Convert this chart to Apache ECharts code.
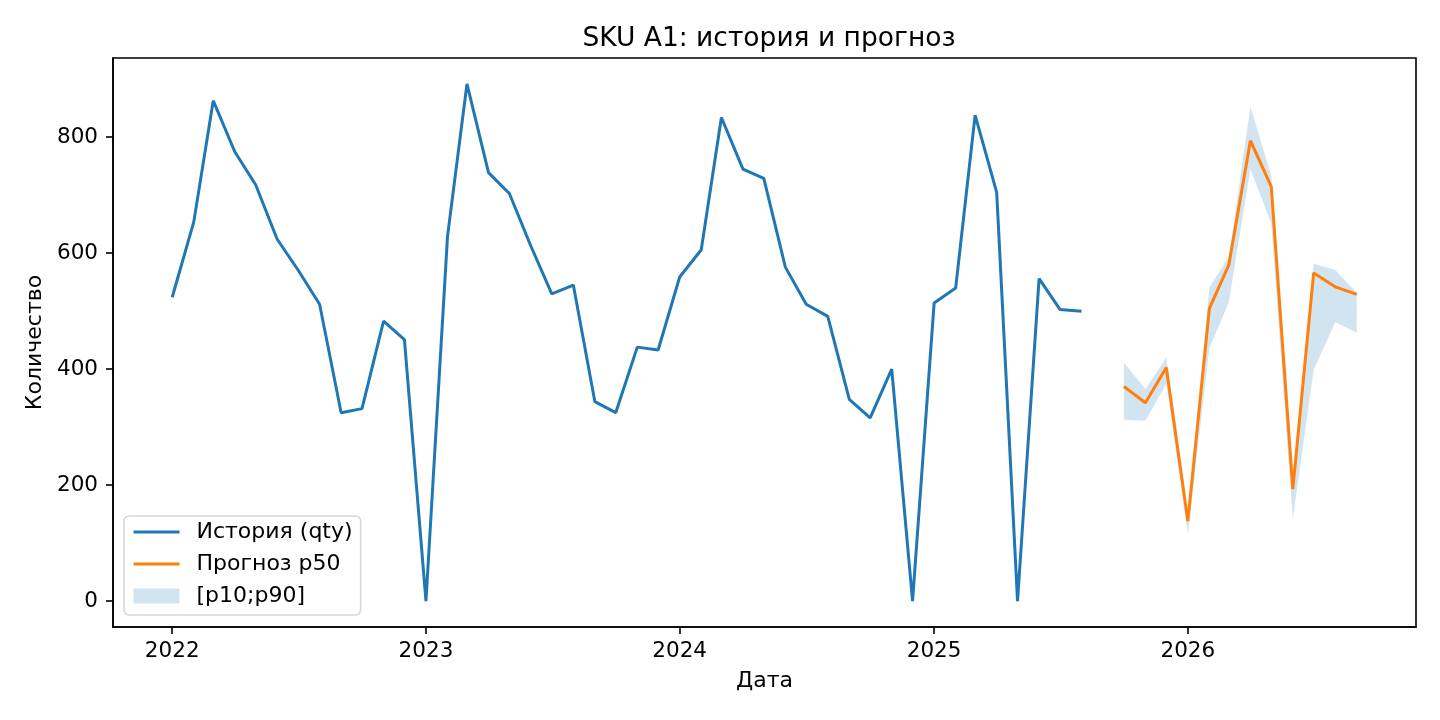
<!DOCTYPE html>
<html>
<head>
<meta charset="utf-8">
<title>SKU A1</title>
<script src="https://cdn.jsdelivr.net/npm/echarts@6/dist/echarts.min.js"></script>
<style>
  html, body { margin: 0; padding: 0; background: #fff; }
  #chart { width: 1440px; height: 720px; }
</style>
</head>
<body>
<div id="chart"></div>
<script>
// history, monthly
var histMonths = [
  '2022-01-01', '2022-02-01', '2022-03-01', '2022-04-01', '2022-05-01', '2022-06-01',
  '2022-07-01', '2022-08-01', '2022-09-01', '2022-10-01', '2022-11-01', '2022-12-01',
  '2023-01-01', '2023-02-01', '2023-03-01', '2023-04-01', '2023-05-01', '2023-06-01',
  '2023-07-01', '2023-08-01', '2023-09-01', '2023-10-01', '2023-11-01', '2023-12-01',
  '2024-01-01', '2024-02-01', '2024-03-01', '2024-04-01', '2024-05-01', '2024-06-01',
  '2024-07-01', '2024-08-01', '2024-09-01', '2024-10-01', '2024-11-01', '2024-12-01',
  '2025-01-01', '2025-02-01', '2025-03-01', '2025-04-01', '2025-05-01', '2025-06-01',
  '2025-07-01', '2025-08-01'
];
var histQty = [
  524, 654, 863, 775, 718, 624, 571, 512, 325, 332, 483, 451,
  0, 629, 892, 739, 703, 612, 530, 545, 344, 325, 438, 433,
  559, 606, 834, 745, 729, 576, 512, 491, 348, 316, 400, 0,
  514, 540, 838, 705, 0, 556, 503, 500
];

// forecast
var fcMonths = [
  '2025-10-01', '2025-11-01', '2025-12-01', '2026-01-01', '2026-02-01', '2026-03-01',
  '2026-04-01', '2026-05-01', '2026-06-01', '2026-07-01', '2026-08-01', '2026-09-01'
];
var fcP50 = [370, 342, 403, 138, 505, 580, 794, 715, 193, 566, 542, 529];
var fcP10 = [313, 311, 375, 115, 436, 516, 745, 651, 142, 399, 481, 463];
var fcP90 = [411, 366, 420, 150, 541, 594, 853, 733, 200, 582, 571, 532];

var xTickYears = ['2022-01-01', '2023-01-01', '2024-01-01', '2025-01-01', '2026-01-01'];
var yTicks = [0, 200, 400, 600, 800];

var FONT = 'DejaVu Sans';

function ts(s) {
  var p = s.split('-');
  return new Date(+p[0], +p[1] - 1, +p[2]).getTime();
}
function pairs(months, vals) {
  return months.map(function (m, i) { return [ts(m), vals[i]]; });
}

// matplotlib-like 5% margins
var tMin = ts(histMonths[0]), tMax = ts(fcMonths[fcMonths.length - 1]);
var tPad = (tMax - tMin) * 0.05;
var allVals = histQty.concat(fcP10, fcP50, fcP90);
var vMin = Math.min.apply(null, allVals), vMax = Math.max.apply(null, allVals);
var vPad = (vMax - vMin) * 0.05;

var xTickTs = xTickYears.map(ts);
var bandData = fcMonths.map(function (m, i) { return [ts(m), fcP10[i], fcP90[i]]; });

// fill between p10 and p90 as one polygon
function renderBand(params, api) {
  if (params.dataIndex !== 0) return;
  var pts = [];
  for (var i = 0; i < bandData.length; i++) {
    pts.push(api.coord([bandData[i][0], bandData[i][2]]));
  }
  for (var j = bandData.length - 1; j >= 0; j--) {
    pts.push(api.coord([bandData[j][0], bandData[j][1]]));
  }
  return {
    type: 'polygon',
    shape: { points: pts },
    style: { fill: 'rgba(31,119,180,0.2)' }
  };
}

var lineLegendItem = function (name, color) {
  return {
    name: name,
    itemStyle: { color: 'rgba(0,0,0,0)', borderWidth: 0 },
    lineStyle: { color: color, width: 3 }
  };
};

var chart = echarts.init(document.getElementById('chart'));
var option = {
  animation: false,
  backgroundColor: '#fff',
  textStyle: { fontFamily: FONT, color: '#000' },
  title: {
    text: 'SKU A1: история и прогноз',
    left: 764,
    textAlign: 'center',
    top: 21,
    textStyle: { fontFamily: FONT, fontSize: 26.5, fontWeight: 'normal', color: '#000' }
  },
  grid: {
    left: 113, right: 24, top: 58, bottom: 93,
    show: true, borderColor: '#000', borderWidth: 1.6, backgroundColor: 'transparent'
  },
  legend: {
    left: 124, top: 516,
    orient: 'vertical',
    itemWidth: 46, itemHeight: 15, itemGap: 10,
    padding: [5, 8, 8, 8],
    backgroundColor: '#fff',
    borderColor: '#d6d6d6', borderWidth: 1.6, borderRadius: 5,
    textStyle: { fontFamily: FONT, fontSize: 22, color: '#000', padding: [0, 0, 0, 12] },
    data: [
      lineLegendItem('История (qty)', '#1f77b4'),
      lineLegendItem('Прогноз p50', '#ff7f0e'),
      { name: '[p10;p90]', icon: 'rect', itemStyle: { color: 'rgba(31,119,180,0.2)' } }
    ]
  },
  xAxis: {
    type: 'value',
    min: tMin - tPad,
    max: tMax + tPad,
    name: 'Дата',
    nameLocation: 'middle',
    nameGap: 43,
    nameTextStyle: { fontFamily: FONT, fontSize: 22, color: '#000' },
    axisLine: { onZero: false, lineStyle: { color: '#000', width: 1.6 } },
    axisTick: { length: 7, lineStyle: { color: '#000', width: 1.6 }, customValues: xTickTs },
    axisLabel: {
      fontFamily: FONT, fontSize: 21.5, color: '#000', margin: 13,
      customValues: xTickTs,
      formatter: function (v) { return String(new Date(v).getFullYear()); }
    },
    splitLine: { show: false }
  },
  yAxis: {
    type: 'value',
    min: vMin - vPad,
    max: vMax + vPad,
    name: 'Количество',
    nameLocation: 'middle',
    nameGap: 66,
    nameTextStyle: { fontFamily: FONT, fontSize: 22, color: '#000' },
    axisLine: { show: true, onZero: false, lineStyle: { color: '#000', width: 1.6 } },
    axisTick: { show: true, length: 7, lineStyle: { color: '#000', width: 1.6 }, customValues: yTicks },
    axisLabel: { fontFamily: FONT, fontSize: 21.5, color: '#000', margin: 15, customValues: yTicks },
    splitLine: { show: false }
  },
  series: [
    {
      name: '[p10;p90]',
      type: 'custom',
      color: 'rgba(31,119,180,0.2)',
      renderItem: renderBand,
      encode: { x: 0, y: [1, 2] },
      data: bandData,
      z: 1
    },
    {
      name: 'История (qty)',
      type: 'line',
      symbol: 'none',
      color: '#1f77b4',
      lineStyle: { color: '#1f77b4', width: 3 },
      data: pairs(histMonths, histQty),
      z: 2
    },
    {
      name: 'Прогноз p50',
      type: 'line',
      symbol: 'none',
      color: '#ff7f0e',
      lineStyle: { color: '#ff7f0e', width: 3 },
      data: pairs(fcMonths, fcP50),
      z: 3
    }
  ]
};
chart.setOption(option);
</script>
</body>
</html>
